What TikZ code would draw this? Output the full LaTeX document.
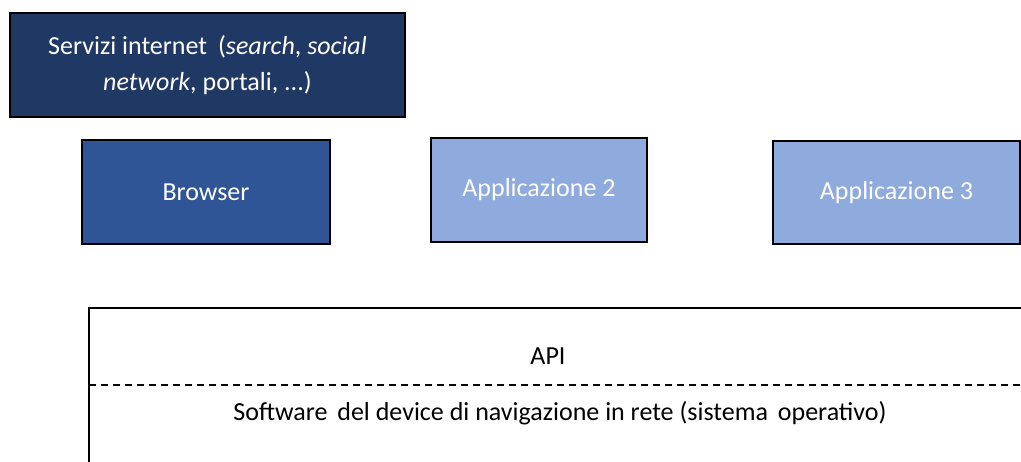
\documentclass[tikz,border=0pt]{standalone}
\usepackage{fontspec}
\setmainfont{Carlito}
\definecolor{navy}{HTML}{203864}
\definecolor{midblue}{HTML}{2F5597}
\definecolor{lightblue}{HTML}{8FAADC}
\tikzset{
  box/.style={draw=black, line width=1.5pt, text=white, inner sep=0pt, font=\fontsize{26}{36}\selectfont},
  lbl/.style={inner sep=0pt, font=\fontsize{26}{30}\selectfont, text=black},
  apibox/.style={line width=1.3pt},
  apisep/.style={line width=1.3pt, dash pattern=on 7pt off 5pt}
}
\begin{document}
\begin{tikzpicture}[x=1pt,y=-1pt]
\useasboundingbox (0,0) rectangle (1021,462);
\clip (0,0) rectangle (1021,462);
\node[box, fill=navy, minimum width=395pt, minimum height=104pt, align=center] (serv) at (207.5,65)
  {Servizi internet\hspace{5pt} (\textit{search}, \textit{social}\\\textit{network}, portali, ...)};
\node[box, fill=midblue, minimum width=248pt, minimum height=104pt] (browser) at (206,192) {Browser};
\node[box, fill=lightblue, minimum width=216pt, minimum height=104pt] (app2) at (539,190) {Applicazione 2};
\node[box, fill=lightblue, minimum width=247pt, minimum height=103pt] (app3) at (896.5,192.5) {Applicazione 3};
\coordinate (tl) at (89,308);
\coordinate (tr) at (1030,308);
\coordinate (bl) at (89,470);
\coordinate (dl) at (89,385);
\coordinate (dr) at (1030,385);
\draw[apibox] (bl) -- (tl) -- (tr);
\draw[apisep] (dl) -- (dr);
\node[lbl] (api) at (548,356) {API};
\node[lbl] (sw) at (560,413) {Software\hspace{4pt} del device di navigazione in rete (sistema\hspace{4pt} operativo)};
\end{tikzpicture}
\end{document}
